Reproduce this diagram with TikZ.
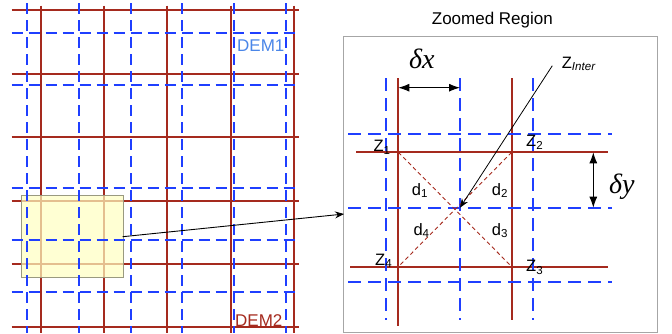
\documentclass[tikz,border=0pt]{standalone}
\usepackage{fontspec}
\setmainfont{Liberation Sans}
\newfontfamily\serifit{Liberation Serif}
\usetikzlibrary{arrows.meta}
\definecolor{demred}{HTML}{A52A1E}
\definecolor{demblue}{HTML}{1F3FFF}
\definecolor{demonetext}{HTML}{4A86E8}
\definecolor{panelgray}{HTML}{A6A6A6}
\definecolor{rectfill}{HTML}{FFFFC0}
\definecolor{rectdraw}{HTML}{9A9A80}
\tikzset{
  redline/.style={demred, line width=2pt},
  blueline/.style={demblue, line width=2pt, dash pattern=on 11pt off 6pt},
  zredline/.style={demred, line width=1.8pt},
  zblueline/.style={demblue, line width=2pt, dash pattern=on 13pt off 7pt},
  diagline/.style={demred, line width=0.9pt, dash pattern=on 4pt off 3pt},
  lbl/.style={inner sep=0pt, anchor=base west, font=\fontsize{16.5}{16.5}\selectfont},
  dimarrow/.style={black, line width=0.9pt, {Latex[length=11pt,width=8pt]}-{Latex[length=11pt,width=8pt]}},
  greeklbl/.style={inner sep=0pt, anchor=base west, font=\fontsize{28}{28}\selectfont\serifit\itshape},
}
\begin{document}
\begin{tikzpicture}[x=1pt,y=-1pt]
\useasboundingbox (0,0) rectangle (672,333);
% ---------- left grid: red (DEM2) ----------
\foreach \xx in {40.7,104,167.3,230.7,294}
  \draw[redline] (\xx,5.7) -- (\xx,333);
\foreach \yy in {10,73.7,137,200.7,264,327.3}
  \draw[redline] (11.7,\yy) -- (299,\yy);
% ---------- highlighted region ----------
\node[draw=rectdraw, line width=0.8pt, fill=rectfill, fill opacity=0.7, draw opacity=1,
      minimum width=101.4pt, minimum height=82pt, inner sep=0pt, anchor=north west] (zone) at (21.3,195.3) {};
\coordinate (zoneout) at (122.7,236.7);
% ---------- left grid: blue (DEM1) ----------
\foreach \xx in {27.3,79,130.7,182.3,233.7,286}
  \draw[blueline] (\xx,3) -- (\xx,333);
\foreach \yy in {33,84.7,188.3,240,291.7}
  \draw[blueline] (11.7,\yy) -- (295,\yy);
\node[inner sep=0pt, anchor=base west, text=demonetext, font=\fontsize{17}{17}\selectfont] (dem1) at (237,51.7) {DEM1};
\node[inner sep=0pt, anchor=base west, text=demred, font=\fontsize{17}{17}\selectfont] (dem2) at (235,326.7) {DEM2};
% ---------- zoomed panel ----------
\node[draw=panelgray, line width=1pt, minimum width=314pt, minimum height=296.3pt, inner sep=0pt, anchor=north west] (panel) at (343.3,36) {};
\node[inner sep=0pt, anchor=base west, font=\fontsize{17}{17}\selectfont] (title) at (431.7,24) {Zoomed Region};
\coordinate (panelin) at (344,214);
\draw[black, line width=0.9pt, -{Stealth[length=9pt,width=7pt]}] (zoneout) -- (panelin);
% red lines in panel
\draw[zredline] (398.3,78.3) -- (398.3,325.7);
\draw[zredline] (511.7,78.3) -- (511.7,320);
\draw[zredline] (356,152.3) -- (608.3,152.3);
\draw[zredline] (350,266.7) -- (608.3,266.7);
% blue lines in panel
\foreach \xx in {386,460,533.3}
  \draw[zblueline] (\xx,78.3) -- (\xx,320);
\foreach \yy in {134,207.7,282}
  \draw[zblueline] (348.3,\yy) -- (611.7,\yy);
% corner points
\coordinate (c1) at (398.3,152.3);
\coordinate (c2) at (511.7,152.3);
\coordinate (c3) at (511.7,266.7);
\coordinate (c4) at (398.3,266.7);
\draw[diagline] (c1) -- (c3);
\draw[diagline] (c2) -- (c4);
% labels
\node[lbl] (z1) at (373.3,151.7) {Z\textsubscript{1}};
\node[lbl] (z2) at (526,146.7) {Z\textsubscript{2}};
\node[lbl] (z3) at (526,271.7) {Z\textsubscript{3}};
\node[lbl] (z4) at (375,265) {Z\textsubscript{4}};
\node[lbl] (d1) at (411.7,195) {d\textsubscript{1}};
\node[lbl] (d2) at (491.7,195) {d\textsubscript{2}};
\node[lbl] (d3) at (491.7,235) {d\textsubscript{3}};
\node[lbl] (d4) at (413.3,235) {d\textsubscript{4}};
% Z inter
\node[lbl] (zint) at (561.7,68.3) {Z\textsubscript{\itshape Inter}};
\coordinate (zintfrom) at (552.3,65.7);
\coordinate (center) at (460,207.7);
\draw[black, line width=0.8pt, -{Stealth[length=9pt,width=7pt]}] (zintfrom) -- (center);
% delta x
\coordinate (dxa) at (398.3,87.7);
\coordinate (dxb) at (460,87.7);
\draw[dimarrow] (dxa) -- (dxb);
\node[greeklbl] (dx) at (409,68.3) {δx};
% delta y
\coordinate (dya) at (593.3,152.3);
\coordinate (dyb) at (593.3,207.7);
\draw[dimarrow] (dya) -- (dyb);
\node[greeklbl] (dy) at (609,193.3) {δy};
\end{tikzpicture}
\end{document}
